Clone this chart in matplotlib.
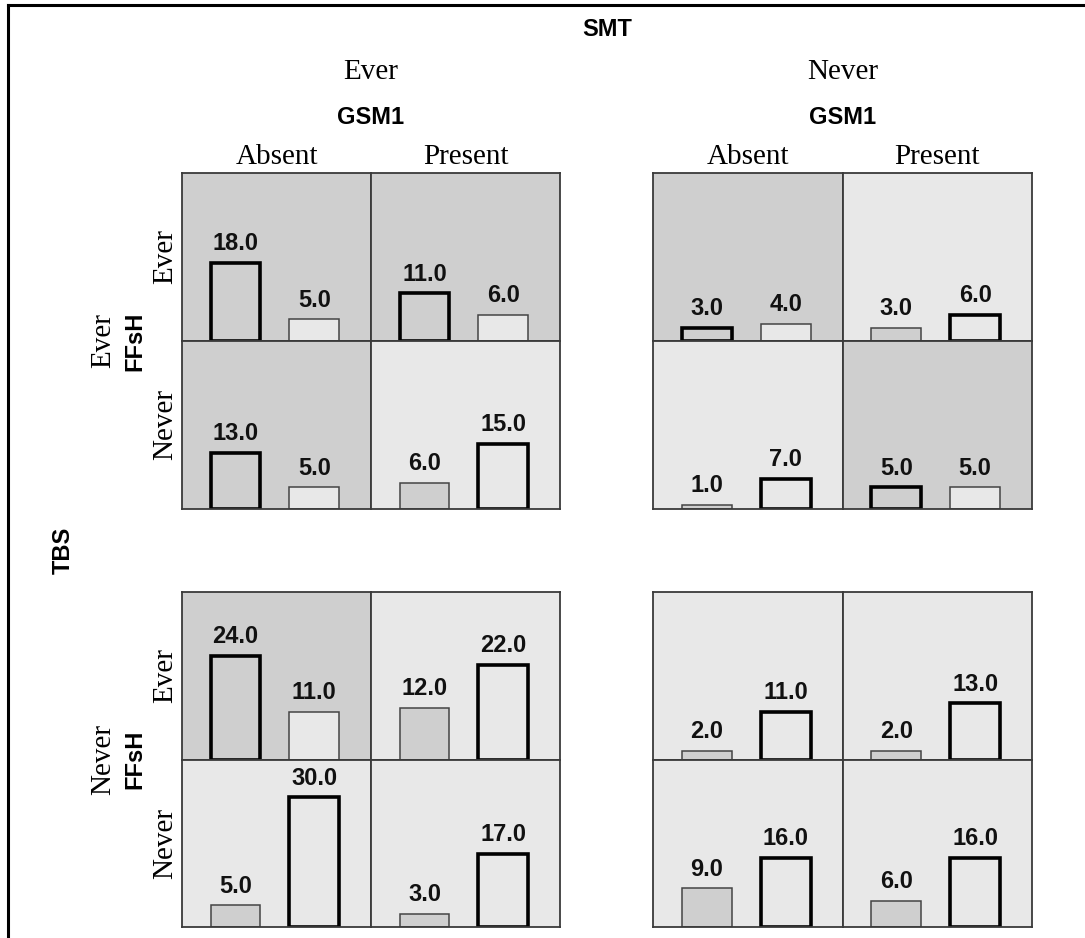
import matplotlib
matplotlib.use("Agg")
import matplotlib.pyplot as plt
from matplotlib.lines import Line2D

# ---- data ----
smt_levels = ["Ever", "Never"]
tbs_levels = ["Ever", "Never"]
ffsh_levels = ["Ever", "Never"]
gsm1_levels = ["Absent", "Present"]

# order: TBS -> SMT -> FFsH -> GSM1
gray_bar = [18, 11, 13, 6,   3, 3, 1, 5,
            24, 12, 5, 3,    2, 2, 9, 6]
light_bar = [5, 6, 5, 15,    4, 6, 7, 5,
             11, 22, 30, 17, 11, 13, 16, 16]
# which bar of each cell is highlighted (1 = gray bar, 0 = light bar)
gray_highlighted = [1, 1, 1, 0,  1, 0, 0, 1,
                    1, 0, 0, 0,  0, 0, 0, 0]

# ---- layout (pixels) ----
W, H = 1085, 938
fig = plt.figure(figsize=(W / 100, H / 100), dpi=100)

block_x = [(182, 560), (653, 1032)]
block_y = [(173, 509), (592, 927)]

DARK = "#cfcfcf"
LIGHT = "#e8e8e8"
SANS = "Liberation Sans"
SERIF = "Liberation Serif"

def fx(px):
    return px / W

def fy(py):
    return 1 - py / H

k = 0
for ti, tbs in enumerate(tbs_levels):
    y0, y1 = block_y[ti]
    ym = (y0 + y1) / 2
    for si, smt in enumerate(smt_levels):
        x0, x1 = block_x[si]
        xm = (x0 + x1) / 2
        for fi, ff in enumerate(ffsh_levels):
            cy0 = y0 if fi == 0 else ym
            cy1 = ym if fi == 0 else y1
            for gi, g in enumerate(gsm1_levels):
                cx0 = x0 if gi == 0 else xm
                cx1 = xm if gi == 0 else x1
                a = gray_bar[k]
                b = light_bar[k]
                left_hl = gray_highlighted[k] == 1
                k += 1
                ax = fig.add_axes([fx(cx0), fy(cy1), fx(cx1) - fx(cx0), fy(cy0) - fy(cy1)])
                ax.set_facecolor(DARK if left_hl else LIGHT)
                ax.set_xlim(-0.68, 1.72)
                ax.set_ylim(0, 38.8)
                ax.set_xticks([])
                ax.set_yticks([])
                for sp in ax.spines.values():
                    sp.set_color("#3a3a3a")
                    sp.set_linewidth(1.3)
                vals = [a, b]
                fills = [DARK, LIGHT]
                for j, v in enumerate(vals):
                    thick = (j == 0 and left_hl) or (j == 1 and not left_hl)
                    ax.bar(j, v, width=0.63, color=fills[j],
                           edgecolor="black" if thick else "#444444",
                           linewidth=2.6 if thick else 1.1, zorder=2)
                    ax.annotate(f"{v:.1f}", xy=(j, v), xytext=(0, 5.5),
                                textcoords="offset points", ha="center", va="bottom",
                                fontsize=17, fontweight="bold", family=SANS,
                                color="#111111")

# ---- headers ----
centers_x = [(x0 + x1) / 2 for x0, x1 in block_x]
fig.text(fx(sum(centers_x) / 2), fy(30), "SMT", ha="center", va="center",
         fontsize=17, fontweight="bold", family=SANS)
for si, smt in enumerate(smt_levels):
    x0, x1 = block_x[si]
    xm = (x0 + x1) / 2
    fig.text(fx(xm), fy(72), smt, ha="center", va="center", fontsize=21, family=SERIF)
    fig.text(fx(xm), fy(118), "GSM1", ha="center", va="center",
             fontsize=17, fontweight="bold", family=SANS)
    for gi, g in enumerate(gsm1_levels):
        c = (x0 + xm) / 2 if gi == 0 else (xm + x1) / 2
        fig.text(fx(c), fy(157), g, ha="center", va="center", fontsize=21, family=SERIF)

# ---- side labels ----
fig.text(fx(63), fy((block_y[0][1] + block_y[1][0]) / 2), "TBS", rotation=90,
         ha="center", va="center", fontsize=17, fontweight="bold", family=SANS)
for ti, tbs in enumerate(tbs_levels):
    y0, y1 = block_y[ti]
    ym = (y0 + y1) / 2
    fig.text(fx(103), fy(ym), tbs, rotation=90, ha="center", va="center",
             fontsize=21, family=SERIF)
    fig.text(fx(135), fy(ym), "FFsH", rotation=90, ha="center", va="center",
             fontsize=17, fontweight="bold", family=SANS)
    for fi, ff in enumerate(ffsh_levels):
        c = (y0 + ym) / 2 if fi == 0 else (ym + y1) / 2
        fig.text(fx(165), fy(c), ff, rotation=90, ha="center", va="center",
                 fontsize=21, family=SERIF)

# ---- outer frame (top and left) ----
fig.add_artist(Line2D([fx(8), 1], [fy(5), fy(5)], color="black", linewidth=2.2))
fig.add_artist(Line2D([fx(8), fx(8)], [fy(5), 0], color="black", linewidth=2.2))

fig.savefig("out.png", dpi=100, facecolor="white")
